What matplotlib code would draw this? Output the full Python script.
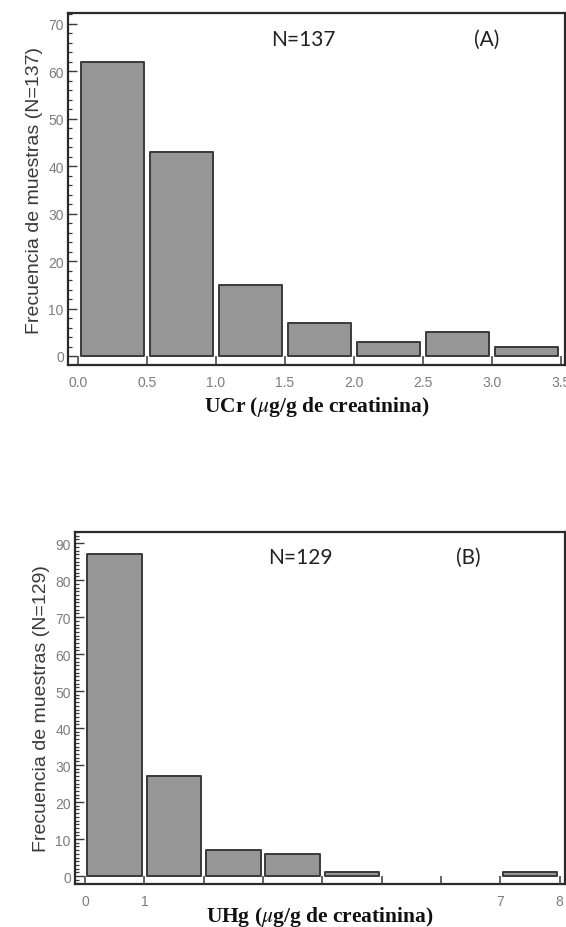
import numpy as np
import matplotlib
matplotlib.use("Agg")
import matplotlib.pyplot as plt
from matplotlib.ticker import MultipleLocator, FixedLocator, FixedFormatter

# UCr histogram (bins of 0.5 ug/g creatinine)
ucr_edges = [0.0, 0.5, 1.0, 1.5, 2.0, 2.5, 3.0, 3.5]
ucr_counts = [62, 43, 15, 7, 3, 5, 2]
ucr_ticklabels = ["0.0", "0.5", "1.0", "1.5", "2.0", "2.5", "3.0", "3.5"]

# UHg histogram (bins of 1 ug/g creatinine)
uhg_edges = [0, 1, 2, 3, 4, 5, 6, 7, 8]
uhg_counts = [87, 27, 7, 6, 1, 0, 0, 1]
uhg_ticklabels = ["0", "1", "", "", "", "", "", "7", "8"]

plt.rcParams["mathtext.fontset"] = "stix"
plt.rcParams["font.family"] = ["Liberation Sans", "DejaVu Sans"]

BAR_FACE = "#969696"
BAR_EDGE = "#3a3a3a"
TICK_COLOR = "#7c7c7c"


def draw_hist(ax, edges, counts, ticklabels, xlim, ylim, major, minor,
              ylabel, xlabel, ntext, ptext, npos, ppos, xlabelpad):
    edges = np.asarray(edges, dtype=float)
    counts = np.asarray(counts, dtype=float)
    widths = np.diff(edges)
    inset = widths * 0.04
    for left, w, ins, c in zip(edges[:-1], widths, inset, counts):
        if c <= 0:
            continue
        ax.bar(left + ins, c, width=w - 2 * ins, align="edge",
               color=BAR_FACE, edgecolor=BAR_EDGE, linewidth=1.4,
               joinstyle="round", zorder=2)
    ax.set_xlim(*xlim)
    ax.set_ylim(*ylim)
    # bin-edge marks running from the axis line up to the zero level
    ax.vlines(edges, ylim[0], 0, color=BAR_EDGE, linewidth=1.1, zorder=3)

    ax.xaxis.set_major_locator(FixedLocator(edges))
    ax.xaxis.set_major_formatter(FixedFormatter(ticklabels))
    ax.tick_params(axis="x", length=0, pad=7, labelsize=10, labelcolor=TICK_COLOR)

    ax.yaxis.set_major_locator(MultipleLocator(major))
    ax.yaxis.set_minor_locator(MultipleLocator(minor))
    ax.tick_params(axis="y", which="major", direction="in", length=6.5,
                   width=1.0, color=BAR_EDGE, pad=3, labelsize=10,
                   labelcolor=TICK_COLOR)
    ax.tick_params(axis="y", which="minor", direction="in", length=3,
                   width=0.9, color=BAR_EDGE)
    ax.tick_params(axis="y", right=False)
    for sp in ax.spines.values():
        sp.set_linewidth(1.6)
        sp.set_color("#2a2a2a")

    ax.set_ylabel(ylabel, family="Liberation Sans", fontsize=14,
                  color="#3a3a3a", labelpad=4)
    ax.set_xlabel(xlabel, family="Liberation Serif", fontweight="bold",
                  fontsize=15.5, color="#111111", labelpad=xlabelpad)
    ax.text(npos[0], npos[1], ntext, transform=ax.transAxes, family="Lato",
            fontsize=15, color="#222222", ha="center", va="center")
    ax.text(ppos[0], ppos[1], ptext, transform=ax.transAxes, family="Lato",
            fontsize=15, color="#222222", ha="center", va="center")


fig = plt.figure(figsize=(5.66, 9.28), dpi=100)

ax_a = fig.add_axes([0.1201, 0.6056, 0.878, 0.3793])
draw_hist(ax_a, ucr_edges, ucr_counts, ucr_ticklabels,
          xlim=(-0.072, 3.53), ylim=(-1.9, 72.3), major=10, minor=2,
          ylabel="Frecuencia de muestras (N=137)",
          xlabel=r"UCr ($\mu$g/g de creatinina)",
          ntext="N=137", ptext="(A)", npos=(0.473, 0.926), ppos=(0.843, 0.926),
          xlabelpad=4)

ax_b = fig.add_axes([0.1325, 0.0463, 0.8657, 0.3793])
draw_hist(ax_b, uhg_edges, uhg_counts, uhg_ticklabels,
          xlim=(-0.17, 8.09), ylim=(-2.16, 93.0), major=10, minor=1,
          ylabel="Frecuencia de muestras (N=129)",
          xlabel=r"UHg ($\mu$g/g de creatinina)",
          ntext="N=129", ptext="(B)", npos=(0.459, 0.929), ppos=(0.802, 0.929),
          xlabelpad=-3)

fig.savefig("out.png", dpi=100, facecolor="white")
